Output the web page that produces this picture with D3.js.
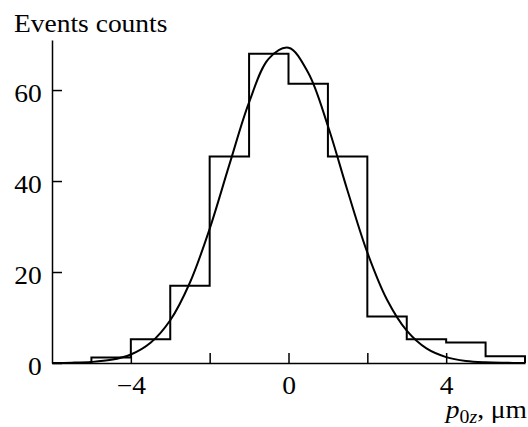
<!DOCTYPE html>
<html lang="en">
<head>
<meta charset="utf-8">
<title>Events counts</title>
<style>
body { margin: 0; background: #fff; }
text { font-family: "Liberation Serif", "DejaVu Serif", serif; fill: #000; }
.axis path, .axis line { stroke: #000; stroke-width: 1.5px; }
.axis text { font-size: 25px; font-family: "Liberation Serif", serif; }
</style>
</head>
<body>
<div id="chart"></div>
<script src="https://d3js.org/d3.v7.min.js"></script>
<script>

// histogram: bin edges and counts
const binEdges = [-5, -4, -3, -2, -1, 0, 1, 2, 3, 4, 5, 6];
const binCounts = [1.2, 5.2, 17, 45.4, 68, 61.4, 45.4, 10.2, 5.2, 4.5, 1.5];

// fitted curve
const curveX = [-6, -5.5, -5, -4.5, -4, -3.5, -3, -2.5, -2, -1.5, -1, -0.5, 0, 0.5, 1, 1.5, 2, 2.5, 3, 3.5, 4, 4.5, 5, 5.5, 6];
const curveY = [0.02, 0.07, 0.23, 0.7, 1.87, 4.45, 9.4, 17.7, 29.5, 43.6, 57.3, 66.9, 69.3, 63.8, 52.1, 37.8, 24.3, 13.9, 7.1, 3.2, 1.3, 0.45, 0.14, 0.04, 0.01];

const xTicks = [-4, -2, 0, 2, 4];
const xTickLabels = [-4, 0, 4];
const yTicks = [0, 20, 40, 60];

const width = 528,
    height = 427,
    margin = ({ top: 40, right: 3, bottom: 64, left: 52 }),
    stretch = 1.1; // the original type is a little wider than it is tall

var svg = d3.select("#chart")
  .append("svg")
    .attr("width", width)
    .attr("height", height);

var x = d3.scaleLinear()
    .domain([-6, 6])
    .range([margin.left, width - margin.right]);

var y = d3.scaleLinear()
    .domain([0, 71])
    .range([height - margin.bottom, margin.top]);

// axes
svg.append("g")
    .attr("class", "axis")
    .attr("transform", "translate(0," + y(0) + ")")
    .call(d3.axisBottom(x)
      .tickValues(xTicks)
      .tickSizeInner(-10)
      .tickSizeOuter(0)
      .tickPadding(14)
      .tickFormat(function(d) { return xTickLabels.indexOf(d) >= 0 ? d3.format("")(d) : ""; }))
  .selectAll("text")
    .attr("dy", "0.68em")
    .attr("transform", "scale(" + stretch + ",1)");

svg.append("g")
    .attr("class", "axis")
    .attr("transform", "translate(" + x(-6) + ",0)")
    .call(d3.axisLeft(y)
      .tickValues(yTicks)
      .tickSizeInner(-10)
      .tickSizeOuter(0)
      .tickPadding(9.4))
  .selectAll("text")
    .attr("dy", "0.45em")
    .attr("transform", "scale(" + stretch + ",1)");

// histogram outline
var steps = [[binEdges[0], 0]];
binCounts.forEach(function(c, i) {
  steps.push([binEdges[i], c]);
  steps.push([binEdges[i + 1], c]);
});
steps.push([binEdges[binEdges.length - 1], 0]);

svg.append("path")
    .datum(steps)
    .attr("fill", "none")
    .attr("stroke", "#000")
    .attr("stroke-width", 2)
    .attr("d", d3.line()
      .x(function(d) { return x(d[0]); })
      .y(function(d) { return y(d[1]); }));

// fit curve
svg.append("path")
    .datum(d3.zip(curveX, curveY))
    .attr("fill", "none")
    .attr("stroke", "#000")
    .attr("stroke-width", 2)
    .attr("d", d3.line()
      .curve(d3.curveCatmullRom)
      .x(function(d) { return x(d[0]); })
      .y(function(d) { return y(d[1]); }));

// labels
svg.append("text")
    .attr("transform", "translate(14,32) scale(" + stretch + ",1)")
    .style("font-size", "25px")
    .text("Events counts");

var xl = svg.append("text")
    .attr("transform", "translate(527,418) scale(" + stretch + ",1)")
    .attr("text-anchor", "end")
    .style("font-size", "25px");
xl.append("tspan").style("font-style", "italic").text("p");
xl.append("tspan").attr("dy", 5).style("font-size", "18px").text("0");
xl.append("tspan").style("font-size", "18px").style("font-style", "italic").text("z");
xl.append("tspan").attr("dy", -5).text(", μm");

</script>
</body>
</html>
